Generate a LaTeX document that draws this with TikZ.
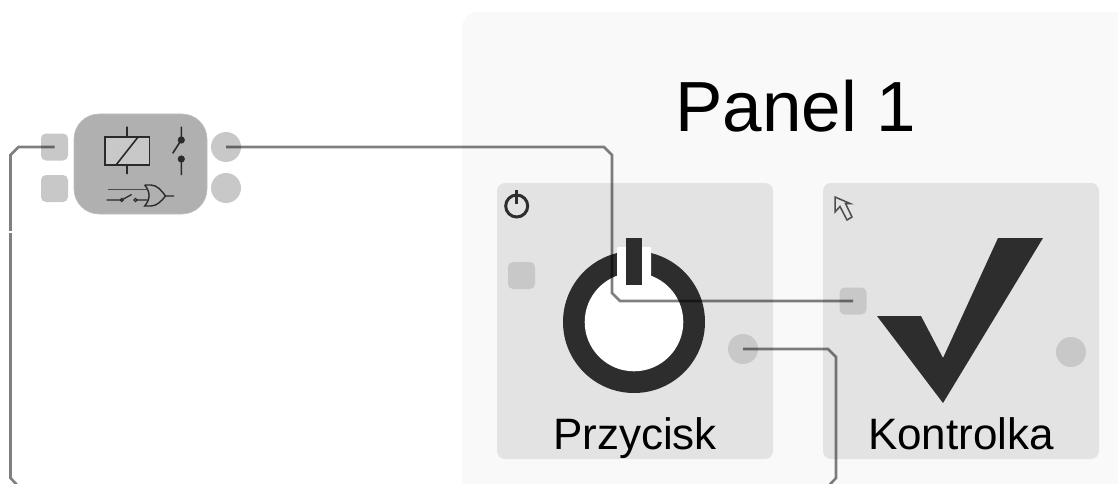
\documentclass[tikz,border=0pt]{standalone}
\usepackage{fontspec}
\setmainfont{Liberation Sans}
\definecolor{panelbg}{HTML}{F9F9F9}
\definecolor{tile}{HTML}{E3E3E3}
\definecolor{portc}{HTML}{C8C8C8}
\definecolor{darkc}{HTML}{2D2D2D}
\definecolor{relayc}{HTML}{B0B0B0}
\definecolor{linec}{HTML}{2A2A2A}
\tikzset{
 sqport/.style={draw=none,fill=portc,rounded corners=5pt,minimum width=27pt,minimum height=27pt,inner sep=0pt,outer sep=0pt},
 rdport/.style={draw=none,fill=portc,circle,minimum size=30pt,inner sep=0pt,outer sep=0pt},
 wire/.style={draw=black,draw opacity=.5,line width=2.6pt,line join=miter},
 tilebox/.style={fill=tile,rounded corners=8pt},
 sym/.style={draw=linec,line width=1.6pt},
 label/.style={inner sep=0pt,text=black,anchor=base}
}
\begin{document}
\begin{tikzpicture}[x=1pt,y=-1pt]
\useasboundingbox (0,0) rectangle (1118,484);
\clip (0,0) rectangle (1118,484);
\fill[white] (0,0) rectangle (1118,484);
% panel
\fill[panelbg,rounded corners=16pt] (462,12) rectangle (1150,520);
\node[label,font=\fontsize{71}{71}\selectfont] (title) at (796,131.5) {Panel 1};
% tiles
\fill[tilebox] (497,183) rectangle (773,459);
\fill[tilebox] (823,183) rectangle (1099,459);
% big power icon
\fill[darkc] (634,322) circle (71);
\fill[white] (634,322) circle (49.3);
\fill[white,rounded corners=1pt] (617,247) rectangle (651,292);
\fill[darkc] (626,238) rectangle (642.3,285);
% small power icon
\draw[darkc,line width=3pt] (516.7,206) circle (11);
\draw[darkc,line width=3pt] (516.7,190) -- (516.7,204);
% cursor icon
\draw[darkc!85,line width=1.5pt,line join=miter] (835,197) -- (835,212) -- (840,206.5) -- (847,220) -- (852,217) -- (845.5,203.5) -- (850,203.5) -- cycle;
% check mark
\fill[darkc] (877,316) -- (921,316) -- (943,358) -- (998,238) -- (1043,238) -- (943,403) -- cycle;
% labels
\node[label,font=\fontsize{44}{44}\selectfont] (przycisk) at (635,449) {Przycisk};
\node[label,font=\fontsize{44}{44}\selectfont] (kontrolka) at (961,449) {Kontrolka};
% relay
\fill[relayc,draw=black!25,line width=.6pt,rounded corners=25pt] (74,114) rectangle (207,214);
\fill[portc] (105,136.7) rectangle (149.3,165);
\draw[sym] (105,136.7) rectangle (149.3,165);
\draw[sym] (127,126.7) -- (127,136.7) (127,165) -- (127,174) (116,165) -- (138.3,136.7);
\draw[sym] (181.3,126.7) -- (181.3,140) -- (172.7,153.3) (181.3,159) -- (181.3,175);
\fill[linec] (181.3,140) circle (3.6) (181.3,159) circle (3.6);
\draw[sym,line width=1.1pt,draw opacity=.75] (108,189.7) -- (146.5,189.7);
\draw[sym,line width=1.3pt] (106.7,200) -- (121.7,200) (121.7,200) -- (131.7,194.5) (135.5,200) -- (147.5,200) (165.5,196) -- (174,196);
\draw[sym,line width=1.1pt] (121.7,200) circle (1.6) (135.5,200) circle (1.7);
\draw[sym,line width=1.4pt] (144.7,185) -- (151,185) .. controls (157,185) and (162,191) .. (165.5,196) .. controls (162,200.5) and (157,206) .. (151,206) -- (144.7,206) .. controls (150.5,199) and (150.5,192) .. (144.7,185);
% ports
\node[sqport] (relIn1) at (54.5,147) {};
\node[sqport] (relIn2) at (54.5,188.5) {};
\node[rdport] (relOut1) at (226,147) {};
\node[rdport] (relOut2) at (226,188) {};
\node[sqport] (przIn) at (521.5,275.5) {};
\node[rdport] (przOut) at (743,349) {};
\node[sqport] (konIn) at (853,301) {};
\node[rdport] (konOut) at (1071,352) {};
% wires
\draw[wire] (relOut1.center) -- (604,147) -- (612,155) -- (612,293) -- (620,301) -- (konIn.center);
\draw[wire] (przOut.center) -- (828,349) -- (836,357) -- (836,478) -- (828,486.5) -- (18.5,486.5) -- (10.5,478) -- (10.5,155) -- (18.5,147) -- (relIn1.center);
\fill[white] (7,231) rectangle (14,233);
\end{tikzpicture}
\end{document}
